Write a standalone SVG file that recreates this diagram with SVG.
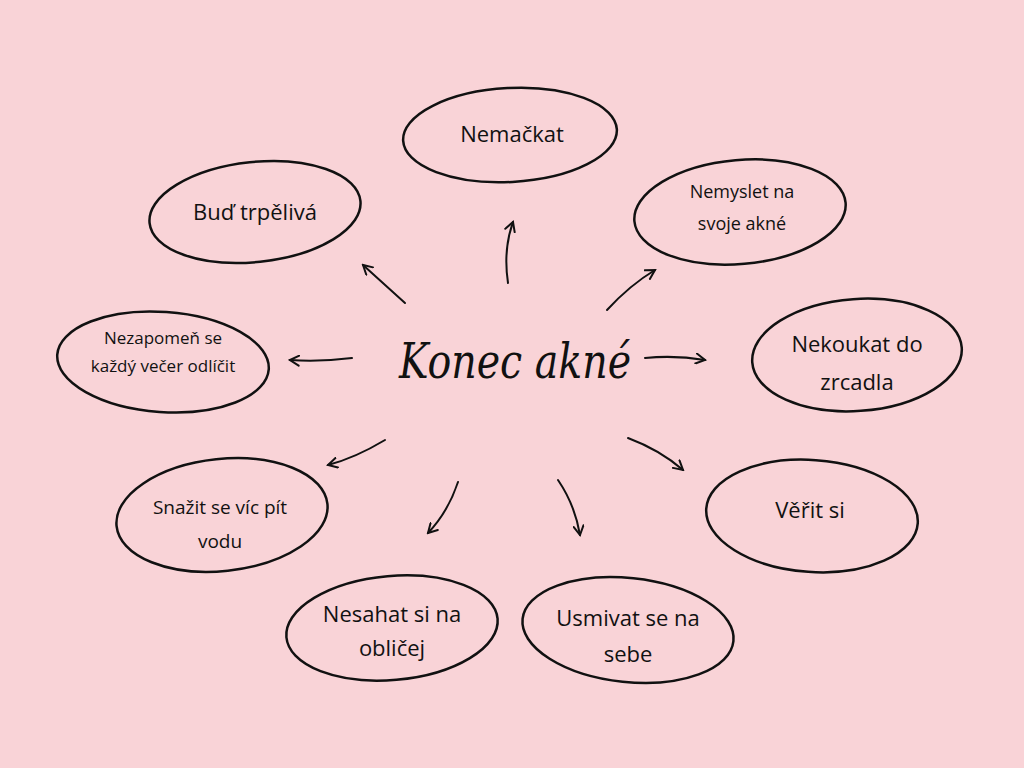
<svg xmlns="http://www.w3.org/2000/svg" width="1024" height="768" viewBox="0 0 1024 768">
<defs>
<style>
.e{fill:none;stroke:#111;stroke-width:2.5}
.t{font-family:"Open Sans","Liberation Sans",sans-serif;font-size:22px;fill:#111;text-anchor:middle}
.s{font-size:18px}
.c{fill:none;stroke:#111;stroke-width:2;stroke-linecap:round}
</style>
<marker id="a" viewBox="0 0 12 12" refX="10" refY="6" markerWidth="12" markerHeight="12" markerUnits="userSpaceOnUse" orient="auto"><path d="M1,1 L10,6 L1,11" fill="none" stroke="#111" stroke-width="2" stroke-linecap="round"/></marker>
</defs>
<rect width="1024" height="768" fill="#F9D3D7"/>
<g id="n1"><ellipse class="e" cx="510" cy="135" rx="107" ry="47" transform="rotate(-3 510 135)"/><text class="t" x="512" y="142">Nemačkat</text></g>
<g id="n2"><ellipse class="e" cx="255" cy="212" rx="106" ry="50" transform="rotate(-6 255 212)"/><text class="t" x="255" y="220">Buď trpělivá</text></g>
<g id="n3"><ellipse class="e" cx="740" cy="212" rx="106" ry="52" transform="rotate(-5 740 212)"/><text class="t s" x="742" y="198">Nemyslet na</text><text class="t s" x="742" y="230">svoje akné</text></g>
<g id="n4"><ellipse class="e" cx="163" cy="362" rx="106" ry="50" transform="rotate(4 163 362)"/><text class="t s" x="163" y="344" style="font-size:17px">Nezapomeň se</text><text class="t s" x="163" y="372" style="font-size:17px">každý večer odlíčit</text></g>
<g id="n5"><ellipse class="e" cx="857" cy="355" rx="105" ry="56" transform="rotate(-4 857 355)"/><text class="t" x="857" y="352">Nekoukat do</text><text class="t" x="857" y="390">zrcadla</text></g>
<g id="n6"><ellipse class="e" cx="222" cy="515" rx="106" ry="56" transform="rotate(-6 222 515)"/><text class="t s" x="220" y="514" style="font-size:19px">Snažit se víc pít</text><text class="t s" x="220" y="548" style="font-size:19px">vodu</text></g>
<g id="n7"><ellipse class="e" cx="812" cy="516" rx="106" ry="56" transform="rotate(4 812 516)"/><text class="t" x="810" y="518">Věřit si</text></g>
<g id="n8"><ellipse class="e" cx="392" cy="628" rx="106" ry="52" transform="rotate(-5 392 628)"/><text class="t" x="392" y="622">Nesahat si na</text><text class="t" x="392" y="656">obličej</text></g>
<g id="n9"><ellipse class="e" cx="628" cy="630" rx="106" ry="52" transform="rotate(6 628 630)"/><text class="t" x="628" y="626">Usmivat se na</text><text class="t" x="628" y="662">sebe</text></g>
<g id="center"><text x="515" y="378" textLength="232" lengthAdjust="spacingAndGlyphs" style="font-family:'DejaVu Serif',serif;font-style:italic;font-size:48px;fill:#111;text-anchor:middle">Konec akné</text></g>
<g id="connectors">
<path class="c" marker-end="url(#a)" d="M508,283 Q503,250 513,222"/>
<path class="c" marker-end="url(#a)" d="M405,303 Q385,285 363,265"/>
<path class="c" marker-end="url(#a)" d="M607,310 Q630,285 655,270"/>
<path class="c" marker-end="url(#a)" d="M352,358 Q320,362 290,360"/>
<path class="c" marker-end="url(#a)" d="M645,358 Q675,355 705,360"/>
<path class="c" marker-end="url(#a)" d="M385,440 Q355,458 328,465"/>
<path class="c" marker-end="url(#a)" d="M458,482 Q448,512 428,533"/>
<path class="c" marker-end="url(#a)" d="M558,480 Q575,505 580,535"/>
<path class="c" marker-end="url(#a)" d="M628,438 Q660,450 683,470"/>
</g>
</svg>
